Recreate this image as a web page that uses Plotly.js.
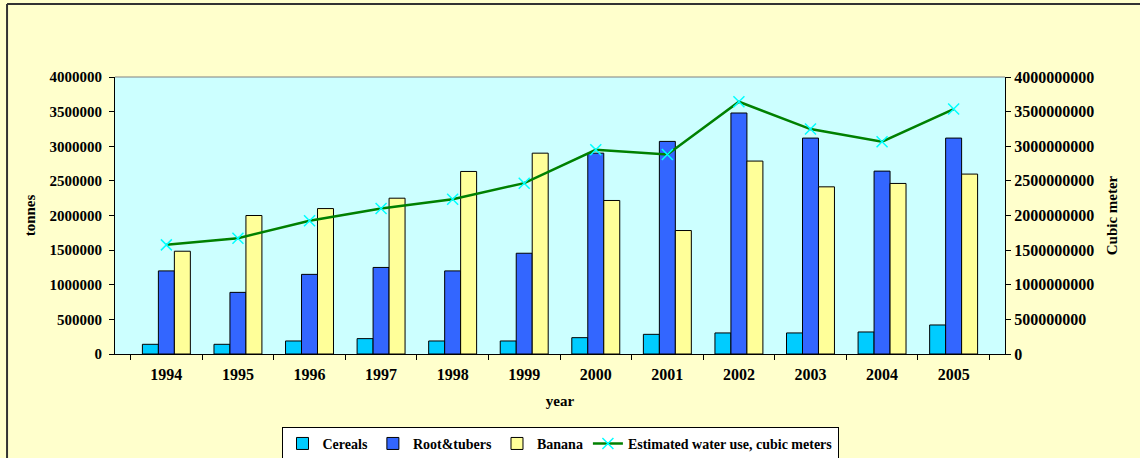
<!DOCTYPE html>
<html>
<head>
<meta charset="utf-8">
<script src="https://cdn.plot.ly/plotly-3.0.1.min.js"></script>
<style>
html,body{margin:0;padding:0;background:#FFFFCC;}
#chart{width:1140px;height:458px;}
</style>
</head>
<body>
<div id="chart"></div>
<script>
const years = ['1994','1995','1996','1997','1998','1999','2000','2001','2002','2003','2004','2005'];
const cereals = [140000,140000,188000,222000,188000,188000,236000,284000,304000,304000,318000,419000];
const roots = [1200000,890000,1150000,1250000,1200000,1455000,2900000,3070000,3480000,3118000,2641000,3118000];
const banana = [1484000,2000000,2100000,2250000,2636000,2900000,2217000,1783000,2786000,2414000,2463000,2598000];
const water = [1576000000,1672000000,1923000000,2101000000,2236000000,2467000000,2949000000,2882000000,3643000000,3248000000,3065000000,3537000000];

const FONT = 'Liberation Serif, Times New Roman, serif';
const barLine = {color:'#000000', width:1};

const traces = [
  {type:'bar', name:'Cereals', x:years, y:cereals, marker:{color:'#00CCFF', line:barLine}},
  {type:'bar', name:'Root&tubers', x:years, y:roots, marker:{color:'#3366FF', line:barLine}},
  {type:'bar', name:'Banana', x:years, y:banana, marker:{color:'#FFFF99', line:barLine}},
  {type:'scatter', mode:'lines+markers', name:'Estimated water use, cubic meters', x:years, y:water, yaxis:'y2',
   line:{color:'#008000', width:2.5},
   marker:{symbol:'x-thin', size:11, color:'#00FFFF', line:{color:'#00FFFF', width:1.5}}}
];

const layout = {
  width:1140, height:458,
  margin:{l:115, r:135, t:77, b:104, autoexpand:false},
  paper_bgcolor:'#FFFFCC',
  plot_bgcolor:'#CCFFFF',
  barmode:'group',
  bargap:0.33,
  bargroupgap:0,
  showlegend:true,
  legend:{orientation:'h', xref:'paper', x:0.5, xanchor:'center', yref:'container', y:0.068, yanchor:'top',
          bgcolor:'#FFFFFF', bordercolor:'#000000', borderwidth:1,
          font:{family:FONT, size:14, color:'#000', weight:'bold'},
          itemwidth:30, tracegroupgap:0, traceorder:'normal'},
  xaxis:{type:'category', showline:true, linecolor:'#000', linewidth:1,
         ticks:'outside', ticklen:5, tickcolor:'#000', tickson:'boundaries',
         ticklabelstandoff:6,
         tickfont:{family:FONT, size:16, color:'#000', weight:'bold'},
         showgrid:false, zeroline:false,
         title:{text:'year', font:{family:FONT, size:15, color:'#000', weight:'bold'}, standoff:13}},
  yaxis:{range:[0,4000000], dtick:500000, tick0:0, tickformat:'d',
         showline:true, linecolor:'#000', linewidth:1,
         ticks:'outside', ticklen:5, tickcolor:'#000', ticklabelstandoff:4,
         tickfont:{family:FONT, size:15, color:'#000', weight:'bold'}, showgrid:false, zeroline:false,
         title:{text:'tonnes', font:{family:FONT, size:15, color:'#000', weight:'bold'}, standoff:10}},
  yaxis2:{range:[0,4000000000], dtick:500000000, tick0:0, tickformat:'d',
          overlaying:'y', side:'right',
          showline:true, linecolor:'#000', linewidth:1,
          ticks:'outside', ticklen:5, tickcolor:'#000',
          tickfont:{family:FONT, size:16, color:'#000', weight:'bold'}, showgrid:false, zeroline:false,
          title:{text:'Cubic meter', font:{family:FONT, size:15, color:'#000', weight:'bold'}, standoff:13}},
  shapes:[
    {type:'line', xref:'paper', yref:'paper', x0:0, x1:1, y0:1, y1:1, line:{color:'#808080', width:1}},
    {type:'line', xref:'paper', yref:'paper', x0:-0.1213, x1:-0.1213, y0:1.2635, y1:-0.5, line:{color:'#333333', width:2}},
    {type:'line', xref:'paper', yref:'paper', x0:-0.1213, x1:1.2, y0:1.2635, y1:1.2635, line:{color:'#333333', width:2}}
  ]
};

Plotly.newPlot('chart', traces, layout, {displayModeBar:false, staticPlot:true});
</script>
</body>
</html>
